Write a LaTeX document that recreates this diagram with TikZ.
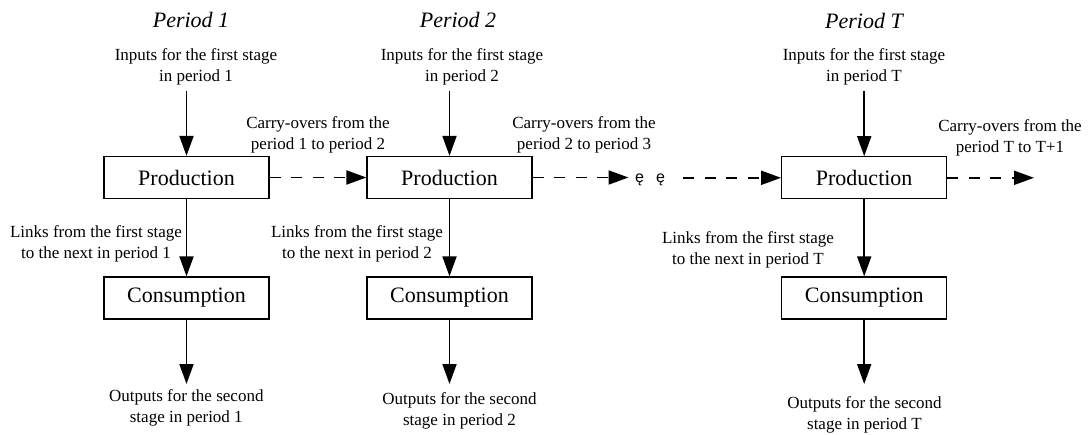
\documentclass[tikz,border=0pt]{standalone}
\usepackage{fontspec}
\setmainfont{Liberation Serif}
\newfontfamily\symfont{Liberation Sans}
\usetikzlibrary{arrows.meta}
\begin{document}
\begin{tikzpicture}[x=1pt,y=-1pt,
  box/.style={draw, line width=1.3pt, minimum width=165pt, minimum height=42pt, inner sep=0pt, font=\fontsize{22}{26}\selectfont},
  lbl/.style={align=center, inner sep=0pt, font=\fontsize{17}{21}\selectfont},
  ttl/.style={inner sep=0pt, font=\fontsize{22}{26}\selectfont\itshape},
  arr/.style={line width=1.9pt, -{Triangle[length=20pt,width=14pt]}},
  darr/.style={arr, dash pattern=on 11pt off 10.5pt}]
\useasboundingbox (0,0) rectangle (1089,435);

% boxes
\node[box] (p1) at (186.5,177.5) {Production};
\node[box] (p2) at (449.5,177.5) {Production};
\node[box] (pT) at (864.2,177.8) {Production};
\node[box] (c1) at (186.5,298) {Consumption};
\node[box] (c2) at (449.5,298) {Consumption};
\node[box] (cT) at (864.2,298) {Consumption};

% titles
\node[ttl] (t1) at (191,20) {Period 1};
\node[ttl] (t2) at (458,20) {Period 2};
\node[ttl] (tT) at (864,21) {Period T};

% inputs
\node[lbl] (in1) at (196,67) {Inputs for the first stage\\in period 1};
\node[lbl] (in2) at (462,67) {Inputs for the first stage\\in period 2};
\node[lbl] (inT) at (864,67) {Inputs for the first stage\\in period T};

% carry-overs
\node[lbl] (co1) at (318,135) {Carry-overs from the\\period 1 to period 2};
\node[lbl] (co2) at (584,135) {Carry-overs from the\\period 2 to period 3};
\node[lbl] (coT) at (1010,138) {Carry-overs from the\\period T to T+1};

% links
\node[lbl] (l1) at (96,243.5) {Links from the first stage\\to the next in period 1};
\node[lbl] (l2) at (357,244) {Links from the first stage\\to the next in period 2};
\node[lbl] (lT) at (748,249.5) {Links from the first stage\\to the next in period T};

% outputs
\node[lbl] (o1) at (186.3,408) {Outputs for the second\\stage in period 1};
\node[lbl] (o2) at (459.5,410.5) {Outputs for the second\\stage in period 2};
\node[lbl] (oT) at (864.5,415) {Outputs for the second\\stage in period T};

% ellipsis glyphs
\node[inner sep=0pt, font=\symfont\fontsize{16}{20}\selectfont] (dots) at (650,180) {ę\hspace{12pt}ę};

% coordinates
\coordinate (i1) at (186.5,91);
\coordinate (i2) at (449.5,91);
\coordinate (iT) at (864.2,91.5);
\coordinate (e1) at (186.5,384);
\coordinate (e2) at (449.5,384);
\coordinate (eT) at (864.2,384);
\coordinate (d1) at (628.5,177.5);
\coordinate (d2) at (683,177.8);
\coordinate (dT) at (1034,177.8);

% arrows
\draw[arr] (i1) -- (p1.north);
\draw[arr] (i2) -- (p2.north);
\draw[arr] (iT) -- (pT.north);
\draw[arr] (p1.south) -- (c1.north);
\draw[arr] (p2.south) -- (c2.north);
\draw[arr] (pT.south) -- (cT.north);
\draw[arr] (c1.south) -- (e1);
\draw[arr] (c2.south) -- (e2);
\draw[arr] (cT.south) -- (eT);
\draw[darr] (p1.east) -- (p2.west);
\draw[darr] (p2.east) -- (d1);
\draw[darr] (d2) -- (pT.west);
\draw[darr] (pT.east) -- (dT);
\end{tikzpicture}
\end{document}
